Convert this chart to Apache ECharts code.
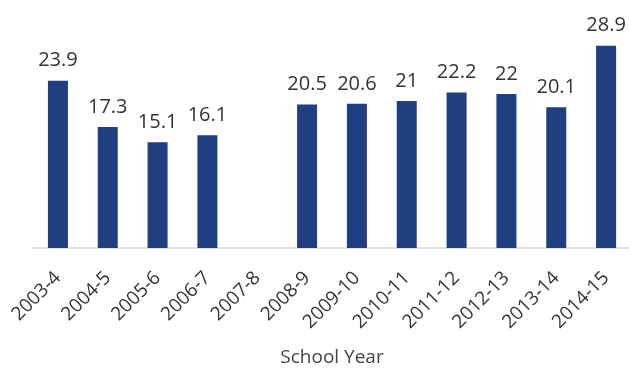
<!DOCTYPE html>
<html>
<head>
<meta charset="utf-8">
<script src="https://cdn.jsdelivr.net/npm/echarts@6/dist/echarts.min.js"></script>
<style>
  html, body { margin: 0; padding: 0; background: #fff; }
  #chart { width: 629px; height: 375px; }
</style>
</head>
<body>
<div id="chart"></div>
<script>
// School years on the category axis
const schoolYears = ['2003-4', '2004-5', '2005-6', '2006-7', '2007-8', '2008-9',
  '2009-10', '2010-11', '2011-12', '2012-13', '2013-14', '2014-15'];
// Values per year (no figure reported for 2007-8)
const values = [23.9, 17.3, 15.1, 16.1, null, 20.5, 20.6, 21, 22.2, 22, 20.1, 28.9];

const FONT = '"Open Sans", "Liberation Sans", sans-serif';
const chart = echarts.init(document.getElementById('chart'), null, { renderer: 'canvas' });

chart.setOption({
  animation: false,
  grid: { left: 33, right: -2, top: 38, bottom: 127, containLabel: false, outerBoundsMode: 'none' },
  xAxis: {
    type: 'category',
    data: schoolYears,
    name: 'School Year',
    nameLocation: 'middle',
    nameGap: 100,
    nameTextStyle: { fontFamily: FONT, fontSize: 19, color: '#444' },
    axisLine: { show: true, lineStyle: { color: '#d9d9d9', width: 1.5 } },
    axisTick: { show: false },
    axisLabel: {
      rotate: 45,
      interval: 0,
      margin: 27,
      fontFamily: FONT,
      fontSize: 19,
      color: '#333'
    }
  },
  yAxis: {
    type: 'value',
    min: 0,
    max: 30,
    show: false,
    splitLine: { show: false }
  },
  series: [{
    type: 'bar',
    data: values,
    barWidth: 20,
    itemStyle: { color: '#1f3f80' },
    label: {
      show: true,
      position: 'top',
      distance: 10,
      fontFamily: FONT,
      fontSize: 20,
      color: '#333'
    }
  }]
});
</script>
</body>
</html>
